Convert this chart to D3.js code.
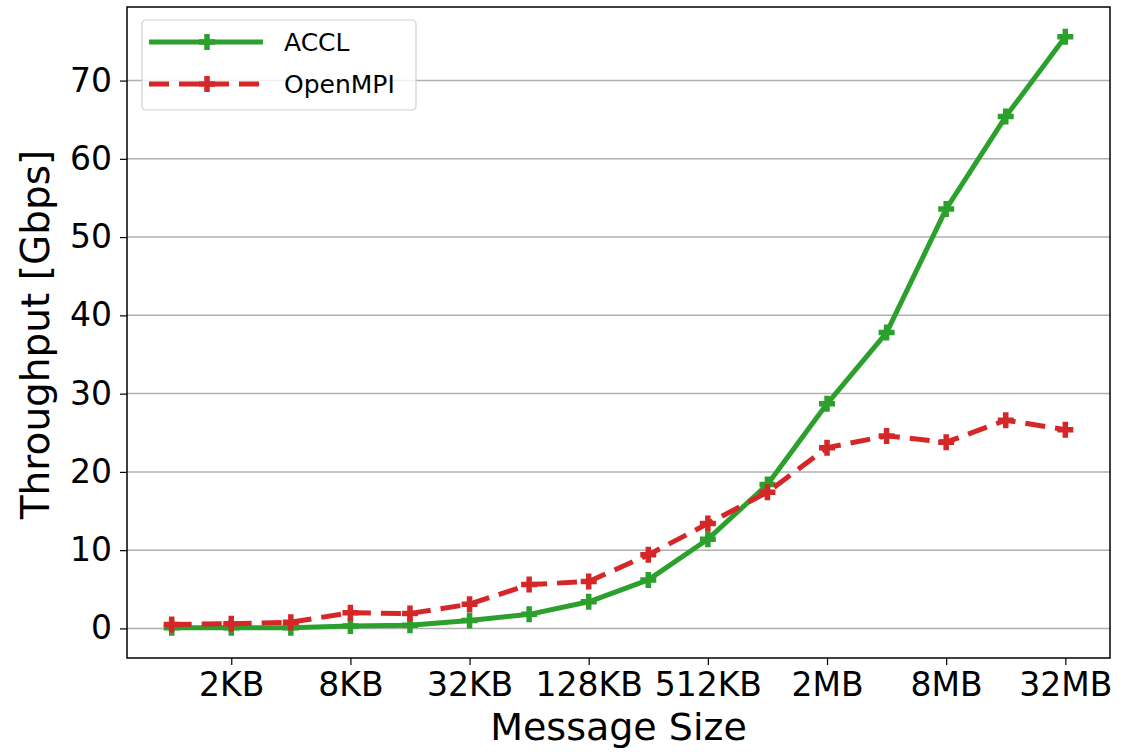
<!DOCTYPE html>
<html>
<head>
<meta charset="utf-8">
<script src="https://cdn.jsdelivr.net/npm/d3@7"></script>
<style>
  body { margin: 0; background: #fff; }
  text { font-family: "DejaVu Sans", sans-serif; fill: #000; }
</style>
</head>
<body>
<div id="chart"></div>
<script>
// Message sizes (1KB .. 32MB, powers of two)
const sizes = ['1KB','2KB','4KB','8KB','16KB','32KB','64KB','128KB','256KB','512KB','1MB','2MB','4MB','8MB','16MB','32MB'];
const tickLabels = ['2KB','8KB','32KB','128KB','512KB','2MB','8MB','32MB'];
const yTicks = [0, 10, 20, 30, 40, 50, 60, 70];

// Throughput in Gbps
const accl    = [0.1, 0.1, 0.1, 0.3, 0.4, 1.0, 1.8, 3.4, 6.2, 11.4, 18.4, 28.7, 37.8, 53.6, 65.4, 75.6];
const openmpi = [0.5, 0.6, 0.8, 2.0, 1.9, 3.1, 5.6, 6.0, 9.4, 13.4, 17.4, 23.1, 24.6, 23.8, 26.6, 25.4];

const series = [
    { name: 'ACCL', values: accl, color: '#2ca02c', dash: null },
    { name: 'OpenMPI', values: openmpi, color: '#d62728', dash: '20,10' }
];

const width = 1145, height = 752;
const margin = { top: 7, right: 35, bottom: 94, left: 127 };
const innerWidth = width - margin.left - margin.right;
const innerHeight = height - margin.top - margin.bottom;

const svg = d3.select('#chart')
    .append('svg')
    .attr('width', width)
    .attr('height', height);

const g = svg.append('g')
    .attr('transform', `translate(${margin.left},${margin.top})`);

// Scales (matplotlib-style 5% margins)
const xScale = d3.scaleLinear()
    .domain([-0.75, sizes.length - 1 + 0.75])
    .range([0, innerWidth]);

const yScale = d3.scaleLinear()
    .domain([-3.78, 79.4])
    .range([innerHeight, 0]);

// Horizontal grid
g.append('g')
    .selectAll('line')
    .data(yTicks)
    .join('line')
    .attr('x1', 0)
    .attr('x2', innerWidth)
    .attr('y1', d => yScale(d))
    .attr('y2', d => yScale(d))
    .attr('stroke', '#b0b0b0')
    .attr('stroke-width', 1.5);

// Y axis
const yAxis = g.append('g')
    .call(d3.axisLeft(yScale).tickValues(yTicks).tickSize(7).tickPadding(8));
yAxis.select('.domain').remove();
yAxis.selectAll('.tick line').attr('stroke', '#000').attr('stroke-width', 1.2);
yAxis.selectAll('.tick text')
    .attr('font-size', 33)
    .attr('font-family', '"DejaVu Sans", sans-serif')
    .attr('fill', '#000');

// X axis
const tickIdx = tickLabels.map(t => sizes.indexOf(t));
const xAxis = g.append('g')
    .attr('transform', `translate(0,${innerHeight})`)
    .call(d3.axisBottom(xScale)
        .tickValues(tickIdx)
        .tickFormat(i => sizes[i])
        .tickSize(7)
        .tickPadding(8));
xAxis.select('.domain').remove();
xAxis.selectAll('.tick line').attr('stroke', '#000').attr('stroke-width', 1.2);
xAxis.selectAll('.tick text')
    .attr('font-size', 33)
    .attr('font-family', '"DejaVu Sans", sans-serif')
    .attr('fill', '#000');

// Lines
const line = d3.line()
    .x((d, i) => xScale(i))
    .y(d => yScale(d));

series.forEach(s => {
    g.append('path')
        .datum(s.values)
        .attr('fill', 'none')
        .attr('stroke', s.color)
        .attr('stroke-width', 5)
        .attr('stroke-dasharray', s.dash)
        .attr('stroke-linejoin', 'round')
        .attr('d', line);

    // plus markers
    g.append('g')
        .selectAll('path')
        .data(s.values)
        .join('path')
        .attr('d', (d, i) => {
            const x = xScale(i), y = yScale(d), r = 8;
            return `M${x - r},${y}H${x + r}M${x},${y - r}V${y + r}`;
        })
        .attr('stroke', s.color)
        .attr('stroke-width', 5.5)
        .attr('fill', 'none');
});

// Frame
g.append('rect')
    .attr('width', innerWidth)
    .attr('height', innerHeight)
    .attr('fill', 'none')
    .attr('stroke', '#000')
    .attr('stroke-width', 1.5);

// Axis titles
svg.append('text')
    .attr('x', margin.left + innerWidth / 2)
    .attr('y', 740)
    .attr('text-anchor', 'middle')
    .attr('font-size', 38)
    .text('Message Size');

svg.append('text')
    .attr('transform', `translate(49,${margin.top + innerHeight / 2 + 2}) rotate(-90)`)
    .attr('text-anchor', 'middle')
    .attr('font-size', 39)
    .text('Throughput [Gbps]');

// Legend
const legend = svg.append('g').attr('transform', 'translate(142,20)');
legend.append('rect')
    .attr('width', 274)
    .attr('height', 90)
    .attr('rx', 4)
    .attr('fill', '#fff')
    .attr('fill-opacity', 0.8)
    .attr('stroke', '#d0d0d0')
    .attr('stroke-width', 1.2);

series.forEach((s, i) => {
    const y = 22 + i * 42;
    legend.append('line')
        .attr('x1', 7).attr('x2', 121)
        .attr('y1', y).attr('y2', y)
        .attr('stroke', s.color)
        .attr('stroke-width', 5)
        .attr('stroke-dasharray', s.dash);
    legend.append('path')
        .attr('d', `M${65 - 8},${y}H${65 + 8}M65,${y - 8}V${y + 8}`)
        .attr('stroke', s.color)
        .attr('stroke-width', 5.5);
    legend.append('text')
        .attr('x', 142)
        .attr('y', y)
        .attr('dy', '0.35em')
        .attr('font-size', 25)
        .text(s.name);
});
</script>
</body>
</html>
